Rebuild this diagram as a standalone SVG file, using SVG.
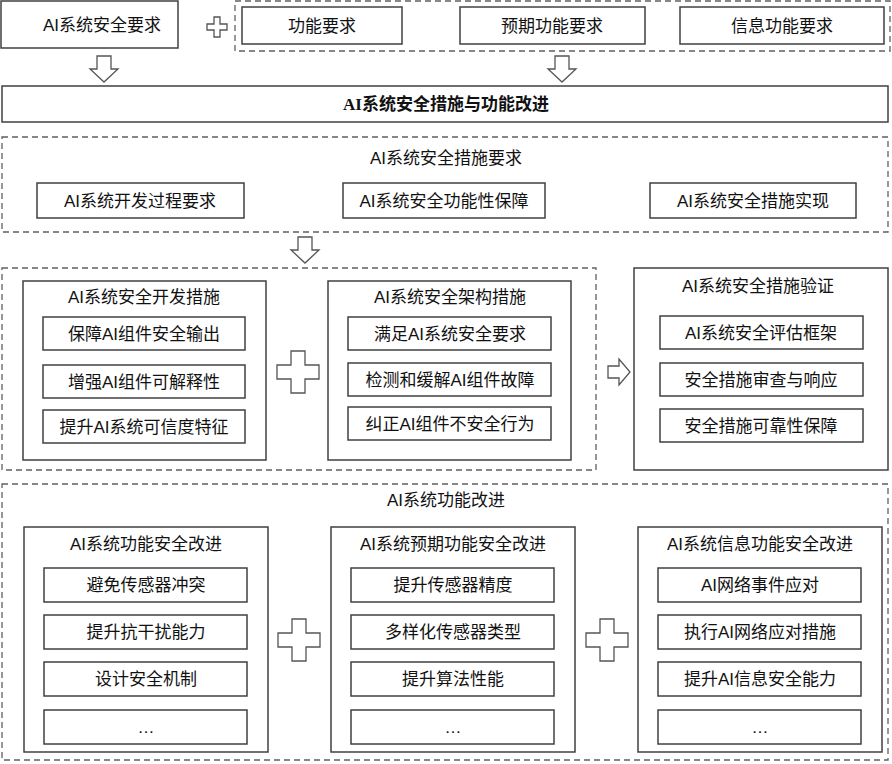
<svg xmlns="http://www.w3.org/2000/svg" width="892" height="764" viewBox="0 0 892 764">
<defs>
<style>
.b{fill:#fff;stroke:#404040;stroke-width:1.5}
.d{fill:none;stroke:#606060;stroke-width:1.3;stroke-dasharray:6,4}
.t{font-family:"Liberation Sans","Noto Sans CJK SC",sans-serif;font-size:17px;fill:#111;text-anchor:middle;dominant-baseline:central}
.s{fill:#fff;stroke:#555;stroke-width:1.3}
</style>
<path id="plus" d="M-7,-21H7V-7H21V7H7V21H-7V7H-21V-7H-7Z"/>
<path id="splus" d="M-3,-10H3V-3H10V3H3V10H-3V3H-10V-3H-3Z"/>
<path id="down" d="M-7,-13H7V0H14L0,13L-14,0H-7Z"/>
<path id="right" d="M-11,-6H0V-13L11,0L0,13V6H-11Z"/>
</defs>
<rect width="892" height="764" fill="#fff"/>
<g id="connectors">
<use href="#splus" x="217" y="27" class="s"/>
<use href="#down" x="104" y="69" class="s"/>
<use href="#down" x="562" y="69" class="s"/>
<use href="#down" x="305" y="250" class="s"/>
<use href="#plus" x="298" y="372" class="s"/>
<use href="#right" x="619" y="372" class="s"/>
<use href="#plus" x="299" y="640" class="s"/>
<use href="#plus" x="607" y="640" class="s"/>
</g>
<g id="req"><rect class="b" x="1" y="1" width="177" height="47"/><text class="t" x="102" y="25">AI系统安全要求</text></g>
<g id="reqgroup"><rect class="d" x="235" y="1" width="655" height="50"/>
<rect class="b" x="242" y="7" width="160" height="37"/><text class="t" x="322" y="26">功能要求</text>
<rect class="b" x="460" y="7" width="185" height="37"/><text class="t" x="552" y="26">预期功能要求</text>
<rect class="b" x="680" y="7" width="204" height="37"/><text class="t" x="782" y="26">信息功能要求</text></g>
<g id="main"><rect class="b" x="2" y="86" width="886" height="36"/><text class="t" x="446" y="104" style="font-weight:bold;font-family:'Liberation Serif','Noto Sans CJK SC',serif">AI系统安全措施与功能改进</text></g>
<g id="measreq"><rect class="d" x="2" y="137" width="886" height="95"/><text class="t" x="446" y="158">AI系统安全措施要求</text>
<rect class="b" x="37" y="183" width="207" height="35"/><text class="t" x="140" y="201">AI系统开发过程要求</text>
<rect class="b" x="343" y="183" width="202" height="35"/><text class="t" x="444" y="201">AI系统安全功能性保障</text>
<rect class="b" x="650" y="183" width="206" height="35"/><text class="t" x="753" y="201">AI系统安全措施实现</text></g>
<g id="measures"><rect class="d" x="2" y="268" width="594" height="202"/>
<rect class="b" x="23" y="281" width="243" height="179"/><text class="t" x="144" y="297">AI系统安全开发措施</text>
<rect class="b" x="43" y="317" width="202" height="33"/><text class="t" x="144" y="334">保障AI组件安全输出</text>
<rect class="b" x="43" y="365" width="202" height="33"/><text class="t" x="144" y="382">增强AI组件可解释性</text>
<rect class="b" x="43" y="410" width="202" height="33"/><text class="t" x="144" y="427">提升AI系统可信度特征</text>
<rect class="b" x="328" y="281" width="243" height="179"/><text class="t" x="450" y="297">AI系统安全架构措施</text>
<rect class="b" x="348" y="317" width="203" height="33"/><text class="t" x="450" y="334">满足AI系统安全要求</text>
<rect class="b" x="348" y="363" width="203" height="33"/><text class="t" x="450" y="380">检测和缓解AI组件故障</text>
<rect class="b" x="348" y="407" width="203" height="33"/><text class="t" x="450" y="424">纠正AI组件不安全行为</text></g>
<g id="verify"><rect class="b" x="634" y="268" width="254" height="202"/><text class="t" x="758" y="286">AI系统安全措施验证</text>
<rect class="b" x="660" y="316" width="203" height="33"/><text class="t" x="761" y="333">AI系统安全评估框架</text>
<rect class="b" x="660" y="363" width="203" height="33"/><text class="t" x="761" y="380">安全措施审查与响应</text>
<rect class="b" x="660" y="409" width="203" height="33"/><text class="t" x="761" y="426">安全措施可靠性保障</text></g>
<g id="improve"><rect class="d" x="2" y="484" width="886" height="276"/><text class="t" x="446" y="500">AI系统功能改进</text>
<rect class="b" x="24" y="527" width="244" height="225"/><text class="t" x="146" y="544">AI系统功能安全改进</text>
<rect class="b" x="44" y="568" width="203" height="34"/><text class="t" x="146" y="585">避免传感器冲突</text>
<rect class="b" x="44" y="615" width="203" height="34"/><text class="t" x="146" y="632">提升抗干扰能力</text>
<rect class="b" x="44" y="662" width="203" height="34"/><text class="t" x="146" y="679">设计安全机制</text>
<rect class="b" x="44" y="710" width="203" height="34"/><text class="t" x="146" y="727">…</text>
<rect class="b" x="331" y="527" width="244" height="225"/><text class="t" x="453" y="544">AI系统预期功能安全改进</text>
<rect class="b" x="351" y="568" width="203" height="34"/><text class="t" x="453" y="585">提升传感器精度</text>
<rect class="b" x="351" y="615" width="203" height="34"/><text class="t" x="453" y="632">多样化传感器类型</text>
<rect class="b" x="351" y="662" width="203" height="34"/><text class="t" x="453" y="679">提升算法性能</text>
<rect class="b" x="351" y="710" width="203" height="34"/><text class="t" x="453" y="727">…</text>
<rect class="b" x="638" y="527" width="244" height="225"/><text class="t" x="760" y="544">AI系统信息功能安全改进</text>
<rect class="b" x="658" y="568" width="203" height="34"/><text class="t" x="760" y="585">AI网络事件应对</text>
<rect class="b" x="658" y="615" width="203" height="34"/><text class="t" x="760" y="632">执行AI网络应对措施</text>
<rect class="b" x="658" y="662" width="203" height="34"/><text class="t" x="760" y="679">提升AI信息安全能力</text>
<rect class="b" x="658" y="710" width="203" height="34"/><text class="t" x="760" y="727">…</text></g>
</svg>
